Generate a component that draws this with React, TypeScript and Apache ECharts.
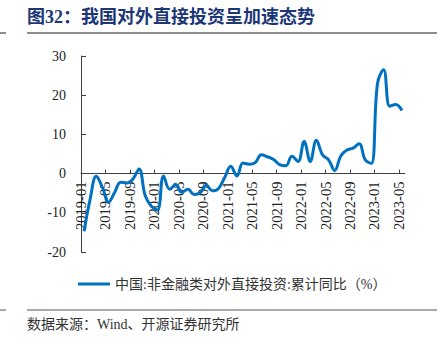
import React, { useEffect, useRef } from "react";
import * as echarts from "echarts";

const titleText = "图32：我国对外直接投资呈加速态势";
const sourceText = "数据来源：Wind、开源证券研究所";
const seriesName = "中国:非金融类对外直接投资:累计同比（%）";

// Monthly tick labels 2019-01 .. 2023-06
const months: string[] = [];
for (let y = 2019; y <= 2023; y++) {
  for (let m = 1; m <= 12; m++) {
    if (y === 2023 && m > 6) break;
    months.push(`${y}-${m < 10 ? "0" + m : m}`);
  }
}

// Cumulative YoY (%), 2019-01 .. 2023-05 (month-end points)
const values: number[] = [
  -14.7, -6.5, -0.7, -3.5, -7.3, -4.8, -2.2, -2.4, -1.4, 1.2,
  -5.6, -8.3, -9.3, -0.6, -4.0, -2.8, -4.8, -4.0, -5.3, -4.9,
  -3.0, -4.4, -3.8, -1.0, 1.9, -0.6, 2.7, 2.4, 2.8, 4.8,
  4.3, 3.6, 2.3, 2.0, 4.4, 3.1, 8.2, 3.1, 8.5, 4.8,
  3.5, 0.8, 4.5, 6.0, 6.5, 7.6, 3.5, 2.6, 23.0, 26.5,
  17.2, 17.6, 16.1,
];

const yTicks = { min: -20, max: 30, interval: 10 };

export default function App() {
  const ref = useRef<HTMLDivElement>(null);
  useEffect(() => {
    if (!ref.current) return;
    const chart = echarts.init(ref.current, null, { renderer: "svg" });
    const serif = "'Liberation Serif', 'Noto Sans CJK SC', serif";
    const axisColor = "#404040";
    const H = 341;
    const gridTop = 56;
    const gridBottom = 89;
    const plotH = H - gridTop - gridBottom;
    // distance from the bottom of the plot up to the value 0
    const zeroLift = (plotH * (0 - yTicks.min)) / (yTicks.max - yTicks.min);
    chart.setOption({
      animation: false,
      backgroundColor: "#ffffff",
      grid: { left: 81, right: 42, top: gridTop, bottom: gridBottom, containLabel: false },
      legend: {
        left: 73,
        top: 272,
        icon: "rect",
        itemWidth: 32,
        itemHeight: 3,
        itemGap: 5,
        textStyle: { fontFamily: serif, fontSize: 14, color: "#333333" },
        data: [seriesName],
      },
      xAxis: [
        {
          type: "category",
          data: months,
          boundaryGap: false,
          position: "bottom",
          offset: -zeroLift,
          axisLine: { show: true, onZero: false, lineStyle: { color: axisColor, width: 1 } },
          axisTick: { show: true, inside: true, length: 4, interval: 3, lineStyle: { color: axisColor } },
          axisLabel: {
            interval: 3,
            rotate: 90,
            margin: 8,
            fontFamily: serif,
            fontSize: 14.5,
            color: "#222222",
          },
          splitLine: { show: false },
        },
        {
          type: "value",
          min: 0,
          max: months.length - 1,
          show: false,
          position: "top",
          axisLine: { onZero: false },
          splitLine: { show: false },
        },
      ],
      yAxis: {
        type: "value",
        min: yTicks.min,
        max: yTicks.max,
        interval: yTicks.interval,
        axisLine: { show: true, onZero: false, lineStyle: { color: axisColor, width: 1 } },
        axisTick: { show: true, inside: true, length: 5, lineStyle: { color: axisColor } },
        axisLabel: { margin: 15, fontFamily: serif, fontSize: 14, color: "#222222" },
        splitLine: { show: false },
      },
      series: [
        {
          name: seriesName,
          type: "line",
          xAxisIndex: 1,
          data: values.map((v, i) => [i + 0.5, v]),
          smooth: 0.4,
          showSymbol: false,
          symbol: "none",
          lineStyle: { color: "#0070C0", width: 3 },
          itemStyle: { color: "#0070C0" },
        },
      ],
      graphic: [
        {
          type: "text",
          left: 27,
          top: 8,
          style: {
            text: titleText,
            fontFamily: serif,
            fontSize: 18,
            fontWeight: "bold",
            fill: "#1c3775",
          },
        },
        { type: "line", shape: { x1: 27, y1: 33, x2: 437, y2: 33 }, style: { stroke: "#8c8c8c", lineWidth: 2 } },
        { type: "line", shape: { x1: 0, y1: 33, x2: 6, y2: 33 }, style: { stroke: "#8c8c8c", lineWidth: 2 } },
        { type: "line", shape: { x1: 27, y1: 310, x2: 437, y2: 310 }, style: { stroke: "#8c8c8c", lineWidth: 1.5 } },
        { type: "line", shape: { x1: 0, y1: 310, x2: 6, y2: 310 }, style: { stroke: "#8c8c8c", lineWidth: 1.5 } },
        {
          type: "text",
          left: 27,
          top: 317,
          style: { text: sourceText, fontFamily: serif, fontSize: 14, fill: "#333333" },
        },
      ],
    });
    return () => chart.dispose();
  }, []);
  return (
    <div
      ref={ref}
      style={{ position: "fixed", left: 0, top: 0, width: 447, height: 341 }}
    />
  );
}
